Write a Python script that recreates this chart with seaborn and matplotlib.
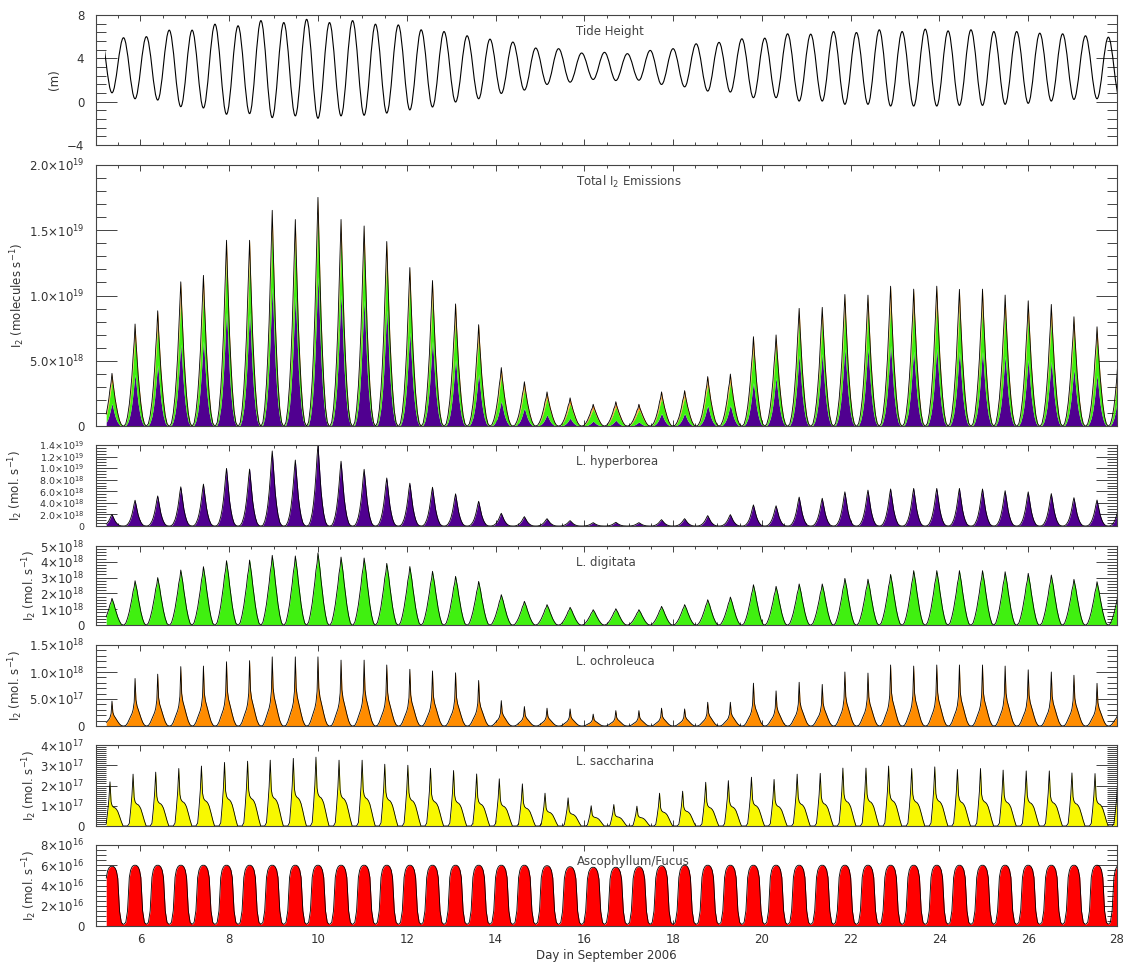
import numpy as np
import matplotlib
matplotlib.use("Agg")
import matplotlib.pyplot as plt
import seaborn as sns
from matplotlib.path import Path
from matplotlib.patches import PathPatch, Rectangle
from matplotlib.ticker import FixedLocator, FixedFormatter, MultipleLocator

# ---------------- data ----------------
# day of each low water (the emission pulses sit on these as well)
low_day = [5.36, 5.88, 6.39, 6.91, 7.42, 7.94, 8.46, 8.97, 9.49, 10.00,
           10.52, 11.04, 11.55, 12.07, 12.58, 13.10, 13.62, 14.13, 14.65, 15.16,
           15.68, 16.20, 16.71, 17.23, 17.74, 18.26, 18.78, 19.29, 19.81, 20.32,
           20.84, 21.36, 21.87, 22.39, 22.90, 23.42, 23.94, 24.45, 24.97, 25.48,
           26.00, 26.52, 27.03, 27.55, 28.06]

# tide height (m) at each low water, and at the high water just before it
tide_low = [0.82, 0.27, 0.15, -0.46, -0.58, -1.16, -1.10, -1.47, -1.31, -1.53,
            -1.31, -1.25, -1.05, -0.76, -0.49, -0.03, 0.27, 0.76, 1.07, 1.59,
            1.80, 2.05, 1.95, 1.98, 1.59, 1.37, 0.98, 0.89, 0.37, 0.37,
            0.06, 0.06, -0.24, -0.24, -0.40, -0.40, -0.40, -0.34, -0.34, -0.24,
            -0.15, 0.06, 0.21, 0.27, 0.30]
tide_high = [6.2, 5.9, 6.0, 6.6, 6.6, 7.15, 7.0, 7.48, 7.3, 7.6,
             7.3, 7.48, 7.15, 7.08, 6.63, 6.47, 6.08, 5.77, 5.5, 4.95,
             4.89, 4.49, 4.55, 4.43, 4.73, 4.89, 5.34, 5.47, 5.8, 5.86,
             6.26, 6.23, 6.47, 6.38, 6.63, 6.47, 6.69, 6.53, 6.63, 6.47,
             6.47, 6.32, 6.26, 6.08, 5.95]

# peak emission of each low-water pulse
total = [4.15, 7.95, 8.97, 11.2, 11.7, 14.4, 14.4, 16.7, 16.0, 17.7,
         16.0, 15.5, 14.3, 12.3, 11.3, 9.5, 7.9, 4.6, 3.5, 2.7,
         2.23, 1.72, 1.92, 1.72, 2.7, 2.8, 3.9, 4.1, 6.97, 7.1,
         9.15, 9.23, 10.23, 10.18, 10.87, 10.64, 10.87, 10.62, 10.64, 10.18,
         9.74, 9.46, 8.51, 7.74, 7.0]  # x 1e18
hyperborea = [2.0, 4.46, 5.2, 6.77, 7.24, 9.96, 9.84, 12.97, 11.4, 14.0,
              11.2, 9.8, 8.3, 7.4, 6.7, 5.56, 4.28, 2.2, 1.62, 1.27,
              0.93, 0.58, 0.64, 0.58, 1.1, 1.27, 1.8, 1.97, 3.65, 3.5,
              5.0, 4.8, 5.9, 6.2, 6.4, 6.5, 6.5, 6.5, 6.4, 6.1,
              5.9, 5.6, 4.9, 4.5, 4.0]  # x 1e18
digitata = [1.69, 2.8, 3.0, 3.48, 3.69, 4.07, 4.11, 4.41, 4.37, 4.56,
            4.3, 4.24, 3.9, 3.7, 3.4, 3.08, 2.76, 1.92, 1.5, 1.29,
            1.12, 0.97, 1.03, 0.97, 1.18, 1.29, 1.6, 1.77, 2.55, 2.45,
            2.6, 2.6, 2.95, 2.9, 3.2, 3.44, 3.44, 3.44, 3.44, 3.37,
            3.27, 3.16, 2.89, 2.74, 2.4]  # x 1e18
ochroleuca = [4.6, 8.8, 9.6, 11.0, 11.1, 11.9, 12.1, 12.8, 12.8, 12.8,
              12.2, 12.2, 11.3, 10.5, 10.2, 9.85, 8.43, 4.7, 3.6, 3.3,
              3.16, 2.2, 2.85, 2.85, 3.3, 3.16, 4.4, 4.4, 7.93, 6.5,
              8.1, 7.7, 10.0, 9.8, 11.3, 11.1, 11.3, 11.3, 11.3, 11.1,
              10.4, 10.0, 9.4, 7.9, 6.0]  # x 1e17
saccharina = [21.8, 25.6, 26.6, 28.4, 29.6, 31.4, 32.0, 32.5, 33.4, 34.0,
              32.5, 32.5, 30.5, 30.0, 28.5, 27.4, 25.7, 23.3, 20.8, 16.2,
              13.9, 10.0, 10.6, 9.8, 16.2, 17.2, 21.6, 22.4, 24.1, 23.0,
              25.6, 26.0, 28.6, 28.6, 29.6, 28.4, 29.2, 27.9, 28.4, 27.6,
              27.2, 27.2, 26.2, 25.9, 22.0]  # x 1e16
ascophyllum = [5.9, 6.0, 6.0, 6.0, 6.0, 6.0, 6.0, 6.0, 6.0, 6.0,
               6.0, 6.0, 6.0, 6.0, 6.0, 6.0, 6.0, 6.0, 6.0, 5.95,
               5.85, 5.8, 5.8, 5.85, 5.95, 6.0, 6.0, 6.0, 6.0, 6.0,
               6.0, 6.0, 6.0, 6.0, 6.0, 6.0, 6.0, 6.0, 6.0, 6.0,
               6.0, 6.0, 6.0, 6.0, 6.0]  # x 1e16

# axis ticks and labels
day_ticks = [6, 8, 10, 12, 14, 16, 18, 20, 22, 24, 26, 28]
day_labels = ["6", "8", "10", "12", "14", "16", "18", "20", "22", "24", "26", "28"]
tide_ticks = [-4, 0, 4, 8]
tide_labels = ["\u22124", "0", "4", "8"]
total_ticks = [0, 5e18, 1e19, 1.5e19, 2e19]
total_labels = ["0", r"$5.0{\times}10^{18}$", r"$1.0{\times}10^{19}$",
                r"$1.5{\times}10^{19}$", r"$2.0{\times}10^{19}$"]
hyp_ticks = [0, 2e18, 4e18, 6e18, 8e18, 1e19, 1.2e19, 1.4e19]
hyp_labels = ["0", r"$2.0{\times}10^{18}$", r"$4.0{\times}10^{18}$", r"$6.0{\times}10^{18}$",
              r"$8.0{\times}10^{18}$", r"$1.0{\times}10^{19}$", r"$1.2{\times}10^{19}$",
              r"$1.4{\times}10^{19}$"]
dig_ticks = [0, 1e18, 2e18, 3e18, 4e18, 5e18]
dig_labels = ["0", r"$1{\times}10^{18}$", r"$2{\times}10^{18}$", r"$3{\times}10^{18}$",
              r"$4{\times}10^{18}$", r"$5{\times}10^{18}$"]
och_ticks = [0, 5e17, 1e18, 1.5e18]
och_labels = ["0", r"$5.0{\times}10^{17}$", r"$1.0{\times}10^{18}$", r"$1.5{\times}10^{18}$"]
sac_ticks = [0, 1e17, 2e17, 3e17, 4e17]
sac_labels = ["0", r"$1{\times}10^{17}$", r"$2{\times}10^{17}$", r"$3{\times}10^{17}$",
              r"$4{\times}10^{17}$"]
asc_ticks = [0, 2e16, 4e16, 6e16, 8e16]
asc_labels = ["0", r"$2{\times}10^{16}$", r"$4{\times}10^{16}$", r"$6{\times}10^{16}$",
              r"$8{\times}10^{16}$"]

# ---------------- pulse shapes (offset in days from low water, fraction of peak) ----------------
OFFSETS = [-0.25, -0.21, -0.17, -0.13, -0.10, -0.07, -0.045, -0.02, 0.0,
           0.02, 0.045, 0.07, 0.10, 0.13, 0.17, 0.21, 0.25]
HYP_SHAPE = [0, 0.01, 0.06, 0.16, 0.28, 0.45, 0.64, 0.86, 1,
             0.84, 0.62, 0.43, 0.27, 0.15, 0.05, 0.01, 0]
DIG_SHAPE = [0, 0.04, 0.15, 0.3, 0.45, 0.6, 0.76, 0.86, 1,
             0.9, 0.78, 0.62, 0.46, 0.3, 0.14, 0.03, 0]
OCH_SHAPE = [0, 0.01, 0.06, 0.14, 0.2, 0.26, 0.34, 0.5, 1,
             0.55, 0.42, 0.35, 0.27, 0.18, 0.08, 0.02, 0]
SAC_SHAPE = [0, 0, 0, 0.05, 0.3, 0.6, 1, 0.55, 0.47,
             0.44, 0.42, 0.41, 0.38, 0.33, 0.22, 0.1, 0]
ASC_SHAPE = [0.03, 0.06, 0.25, 0.8, 0.92, 0.97, 0.99, 1, 1,
             1, 0.99, 0.97, 0.92, 0.8, 0.25, 0.06, 0.03]

DATA_START = 5.2
PURPLE, GREEN, ORANGE, YELLOW, RED = "#500090", "#40F010", "#FF8C00", "#F8F800", "#FF0000"


def pulse_series(peaks, scale, shape):
    x, y = [], []
    for t, p in zip(low_day, peaks):
        for o, f in zip(OFFSETS, shape):
            x.append(t + o)
            y.append(p * scale * f)
    x = np.array(x)
    y = np.array(y)
    keep = x >= DATA_START
    return x[keep], y[keep]


sns.set_style("ticks")
plt.rcParams["font.family"] = ["DejaVu Sans"]
plt.rcParams["mathtext.fontset"] = "dejavusans"
plt.rcParams["font.size"] = 8.5
plt.rcParams["text.color"] = "#333333"
plt.rcParams["axes.edgecolor"] = "#444444"
plt.rcParams["axes.linewidth"] = 0.8

W, H = 1123, 966
fig = plt.figure(figsize=(11.23, 9.66), dpi=100)


def add_panel(top, bottom):
    return fig.add_axes([96 / W, 1 - bottom / H, 1021 / W, (bottom - top) / H])


def style_panel(ax, ylim, ticks, labels, minor, ylabel, label_x, title, bottom=False, tick_size=8.5):
    ax.set_xlim(5, 28)
    ax.set_ylim(*ylim)
    ax.xaxis.set_major_locator(FixedLocator(day_ticks))
    ax.xaxis.set_major_formatter(FixedFormatter(day_labels))
    ax.xaxis.set_minor_locator(MultipleLocator(0.5))
    ax.yaxis.set_major_locator(FixedLocator(ticks))
    ax.yaxis.set_major_formatter(FixedFormatter(labels))
    ax.yaxis.set_minor_locator(MultipleLocator(minor))
    ax.tick_params(axis="both", which="both", direction="in", top=True, right=True,
                   color="#444444", labelcolor="#333333", width=0.7)
    ax.tick_params(axis="y", which="major", length=15, pad=8.5, labelsize=tick_size)
    ax.tick_params(axis="y", which="minor", length=7)
    ax.tick_params(axis="x", which="major", length=4, pad=5)
    ax.tick_params(axis="x", which="minor", length=2.5)
    if not bottom:
        ax.tick_params(axis="x", labelbottom=False)
    ax.set_xlabel("")
    ax.set_ylabel(ylabel, color="#333333")
    ax.yaxis.set_label_coords(label_x, 0.5)
    ax.annotate(title, xy=(0.4706, 1), xycoords="axes fraction", xytext=(0, -12),
                textcoords="offset points", ha="left", va="center", color="#444444")


# ---- tide height ----
ax = add_panel(15, 145)
high_day = [low_day[0] - (low_day[1] - low_day[0]) / 2] + \
    [(a + b) / 2 for a, b in zip(low_day[:-1], low_day[1:])]
ext_t, ext_h = [], []
for th, hh, tl, hl in zip(high_day, tide_high, low_day, tide_low):
    ext_t += [th, tl]
    ext_h += [hh, hl]
verts = [(ext_t[0], ext_h[0])]
codes = [Path.MOVETO]
for i in range(1, len(ext_t)):
    ta, ha, tb, hb = ext_t[i - 1], ext_h[i - 1], ext_t[i], ext_h[i]
    d = tb - ta
    verts += [(ta + 0.364 * d, ha), (tb - 0.364 * d, hb), (tb, hb)]
    codes += [Path.CURVE4] * 3
tide = PathPatch(Path(verts, codes), fill=False, edgecolor="black", linewidth=0.8)
ax.add_patch(tide)
tide.set_clip_path(Rectangle((DATA_START, -4), 28 - DATA_START, 12, transform=ax.transData))
style_panel(ax, (-4, 8), tide_ticks, tide_labels, 0.8, "(m)", -0.034, "Tide Height")

# ---- total emissions (stacked) ----
ax = add_panel(165, 426)
dig = np.array(digitata)
och = np.array(ochroleuca)
sac = np.array(saccharina)
asc = np.array(ascophyllum)
hyp_in_total = np.maximum(np.array(total) - dig - och / 10 - sac / 100 - asc / 100, 0)
layers = [(hyp_in_total, 1e18, HYP_SHAPE, PURPLE), (dig, 1e18, DIG_SHAPE, GREEN),
          (och, 1e17, OCH_SHAPE, ORANGE), (sac, 1e16, SAC_SHAPE, YELLOW),
          (asc, 1e16, ASC_SHAPE, RED)]
base = None
for peaks, scale, shape, col in layers:
    x, y = pulse_series(peaks, scale, shape)
    lower = np.zeros_like(y) if base is None else base
    ax.fill_between(x, lower, lower + y, color=col, linewidth=0)
    base = lower + y
sns.lineplot(x=x, y=base, ax=ax, color="black", linewidth=0.6, sort=False, estimator=None)
style_panel(ax, (0, 2e19), total_ticks, total_labels, 1e18,
            r"I$_2$ (molecules s$^{-1}$)", -0.0676, r"Total I$_2$ Emissions")

# ---- single species ----
species = [
    ((445, 526), hyperborea, 1e18, HYP_SHAPE, PURPLE, (0, 1.4e19), hyp_ticks, hyp_labels, 5e17,
     -0.0695, "L. hyperborea", 6.8),
    ((546, 625), digitata, 1e18, DIG_SHAPE, GREEN, (0, 5e18), dig_ticks, dig_labels, 2e17,
     -0.0558, "L. digitata", 8.5),
    ((645, 726), ochroleuca, 1e17, OCH_SHAPE, ORANGE, (0, 1.5e18), och_ticks, och_labels, 1e17,
     -0.0695, "L. ochroleuca", 8.5),
    ((745, 826), saccharina, 1e16, SAC_SHAPE, YELLOW, (0, 4e17), sac_ticks, sac_labels, 1e16,
     -0.0558, "L. saccharina", 8.5),
    ((845, 926), ascophyllum, 1e16, ASC_SHAPE, RED, (0, 8e16), asc_ticks, asc_labels, 5e15,
     -0.0558, "Ascophyllum/Fucus", 8.5),
]
for i, (box, peaks, scale, shape, col, ylim, ticks, labels, minor, lx, title, ts) in enumerate(species):
    ax = add_panel(*box)
    x, y = pulse_series(peaks, scale, shape)
    ax.fill_between(x, 0, y, color=col, linewidth=0)
    sns.lineplot(x=x, y=y, ax=ax, color="black", linewidth=0.6, sort=False, estimator=None)
    last = i == len(species) - 1
    style_panel(ax, ylim, ticks, labels, minor, r"I$_2$ (mol. s$^{-1}$)", lx, title,
                bottom=last, tick_size=ts)
    if last:
        ax.set_xlabel("Day in September 2006", color="#333333", labelpad=2)

fig.savefig("out.png", dpi=100, facecolor="white")
